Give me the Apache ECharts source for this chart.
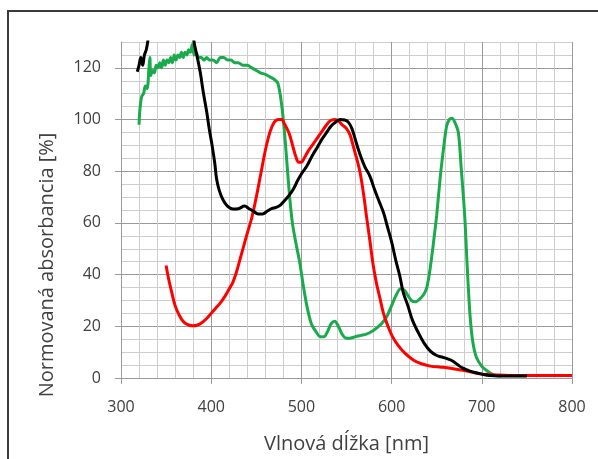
<!DOCTYPE html>
<html>
<head>
<meta charset="utf-8">
<script src="https://cdn.jsdelivr.net/npm/echarts@6/dist/echarts.min.js"></script>
<style>
  html, body { margin: 0; padding: 0; background: #fff; }
  #chart { width: 598px; height: 459px; }
</style>
</head>
<body>
<div id="chart"></div>
<script>
// vlnova dlzka [nm] a normovana absorbancia [%] odcitane z obrazku
const greenNm = [320, 321, 323, 325, 327, 329, 331, 332, 333, 335, 337, 339, 341, 343, 345, 347, 349, 351, 353, 355, 357, 359, 361, 363, 365, 367, 369, 371, 373, 375, 377, 379, 381, 383, 386, 389, 392, 395, 398, 402, 406, 410, 414, 418, 422, 426, 430, 435, 440, 445, 450, 455, 460, 465, 470, 474, 478, 481, 484, 487, 490, 494, 498, 502, 506, 511, 516, 521, 525, 529, 533, 537, 541, 545, 549, 554, 560, 566, 572, 578, 584, 590, 595, 600, 605, 610, 614, 618, 622, 627, 631, 635, 639, 643, 647, 650, 654, 658, 661, 664, 667, 670, 674, 677, 681, 684, 687, 690, 694, 700, 706, 713, 720]
const greenAbs = [98, 104, 109, 110, 113, 112, 120, 124, 117, 119, 118, 121, 120, 122, 120, 123, 121, 123, 122, 124, 122, 125, 123, 125, 124, 126, 124, 126, 125, 127, 126, 129, 125, 126, 124, 124, 123, 124, 123, 123, 122, 124, 124, 123, 123, 122, 122, 121, 121, 120, 119, 118, 117.5, 116.5, 115.5, 114, 106, 96, 83, 70, 60, 52, 45, 36, 28, 21, 18, 16, 16, 18, 21, 22, 20, 17, 15.5, 15.4, 16, 16.5, 17, 18, 19.5, 21.5, 24, 28, 32, 34.5, 34, 32, 30, 29.5, 30.5, 32, 35, 43, 54, 63, 78, 90, 97.5, 100, 100.5, 99, 95, 82, 63, 42, 24, 14, 8, 4.5, 2.7, 1.2, 0.8]

const redNm = [350, 353, 356, 360, 365, 370, 375, 380, 385, 390, 395, 400, 405, 410, 415, 420, 424, 428, 432, 436, 440, 445, 450, 455, 460, 465, 470, 475, 478, 481, 484, 487, 491, 494, 497, 500, 503, 507, 512, 517, 522, 527, 532, 537, 541, 545, 550, 554, 558, 562, 565, 569, 572, 576, 579, 583, 587, 591, 596, 601, 607, 615, 624, 633, 643, 655, 665, 675, 683, 692, 701, 715, 730, 760, 800]
const redAbs = [43.5, 38, 33.5, 28, 24, 21.5, 20.5, 20.2, 20.5, 21.5, 23, 25, 27, 29, 31.5, 34.5, 37, 41, 46, 51, 56, 62, 70, 79, 88, 95, 99, 100, 100, 98.5, 96.5, 94, 89, 85.5, 83.5, 83.5, 85, 87.5, 90, 92.5, 95, 97.5, 99.5, 100, 99.5, 98, 96.5, 94, 89, 84, 79.6, 71, 63, 53, 45, 37, 31, 25, 20, 16, 12.7, 9.5, 7, 5.5, 4.6, 4.2, 3.8, 3.2, 2.7, 2, 1.5, 1.2, 1, 1, 1]

const blackNm = [318, 320, 322, 324, 326, 328, 330, 335, 376, 381, 384, 388, 391, 395, 398, 401, 404, 406, 409, 413, 418, 424, 430, 437, 442, 447, 452, 457, 462, 467, 472, 477, 481, 486, 491, 496, 501, 506, 512, 518, 523, 528, 533, 538, 543, 548, 552, 556, 560, 564, 570, 576, 581, 586, 591, 595, 600, 605, 609, 613, 618, 623, 629, 636, 643, 650, 657, 663, 668, 673, 679, 685, 690, 700, 709, 730, 750]
const blackAbs = [118.5, 121, 124, 121, 125, 127, 131, 145, 145, 130, 125, 118, 111, 103, 96, 90, 83, 77, 72.5, 69, 66.5, 65.4, 65.5, 66.5, 65.5, 64.5, 63.5, 63.5, 64.5, 65.5, 66, 67, 68.5, 70.5, 73, 76.5, 79.5, 82, 86, 89.5, 92.5, 95, 97.5, 99, 100, 99.8, 99, 96.5, 92, 87.5, 82, 78, 73, 68.5, 64, 59, 52.7, 45, 39.6, 33, 28, 22.5, 18, 13.5, 10.4, 8.7, 8, 7.3, 6.5, 5.2, 3.8, 2.9, 2.3, 1.5, 1, 0.8, 0.8]

const zip = (xs, ys) => xs.map((x, i) => [x, ys[i]])

const chart = echarts.init(document.getElementById('chart'))
const textColor = '#404040'
const font = 'Open Sans'

chart.setOption({
  animation: false,
  grid: { left: 121, right: 26, top: 42, bottom: 79 },
  graphic: [{
    type: 'rect',
    shape: { x: 8, y: 11, width: 640, height: 500 },
    style: { fill: 'none', stroke: '#3a3a3a', lineWidth: 2 }
  }, {
    type: 'text',
    x: 47, y: 265,
    rotation: Math.PI / 2,
    style: {
      text: 'Normovaná absorbancia [%]',
      fill: textColor, fontSize: 20, fontFamily: font,
      align: 'center', verticalAlign: 'middle'
    }
  }],
  xAxis: [{
    type: 'value', min: 300, max: 800, interval: 100,
    name: 'Vlnová dĺžka [nm]', nameLocation: 'middle', nameGap: 56,
    nameTextStyle: { color: textColor, fontSize: 20, fontFamily: font },
    axisLine: { show: true, lineStyle: { color: '#9a9a9a' } },
    axisTick: { show: true, length: 6, lineStyle: { color: '#9a9a9a' } },
    axisLabel: { color: textColor, fontSize: 16, fontFamily: font, margin: 21 },
    splitLine: { show: false }
  }, {
    type: 'value', min: 300, max: 800, interval: 20, position: 'top',
    axisLine: { show: false }, axisTick: { show: false }, axisLabel: { show: false },
    splitLine: { show: true, lineStyle: { color: ['#9a9a9a', '#cdcdcd', '#cdcdcd', '#cdcdcd', '#cdcdcd'], width: 1 } }
  }],
  yAxis: [{
    type: 'value', min: 0, max: 130, interval: 20,
    axisLine: { show: true, lineStyle: { color: '#9a9a9a' } },
    axisTick: { show: true, length: 6, lineStyle: { color: '#9a9a9a' } },
    axisLabel: { color: textColor, fontSize: 16, fontFamily: font, margin: 20, showMaxLabel: false },
    splitLine: { show: false }
  }, {
    type: 'value', min: 0, max: 130, interval: 5, position: 'left',
    axisLine: { show: false }, axisTick: { show: false }, axisLabel: { show: false },
    splitLine: { show: true, lineStyle: { color: ['#9a9a9a', '#cdcdcd', '#cdcdcd', '#cdcdcd'], width: 1 } }
  }],
  series: [
    { type: 'line', data: zip(greenNm, greenAbs), smooth: 0.3, showSymbol: false, clip: true,
      lineStyle: { color: '#19aa4c', width: 3 } },
    { type: 'line', data: zip(redNm, redAbs), smooth: 0.4, showSymbol: false, clip: true,
      lineStyle: { color: '#ff0000', width: 3 } },
    { type: 'line', data: zip(blackNm, blackAbs), smooth: 0.4, showSymbol: false, clip: true,
      lineStyle: { color: '#000000', width: 3 } }
  ]
})
</script>
</body>
</html>
